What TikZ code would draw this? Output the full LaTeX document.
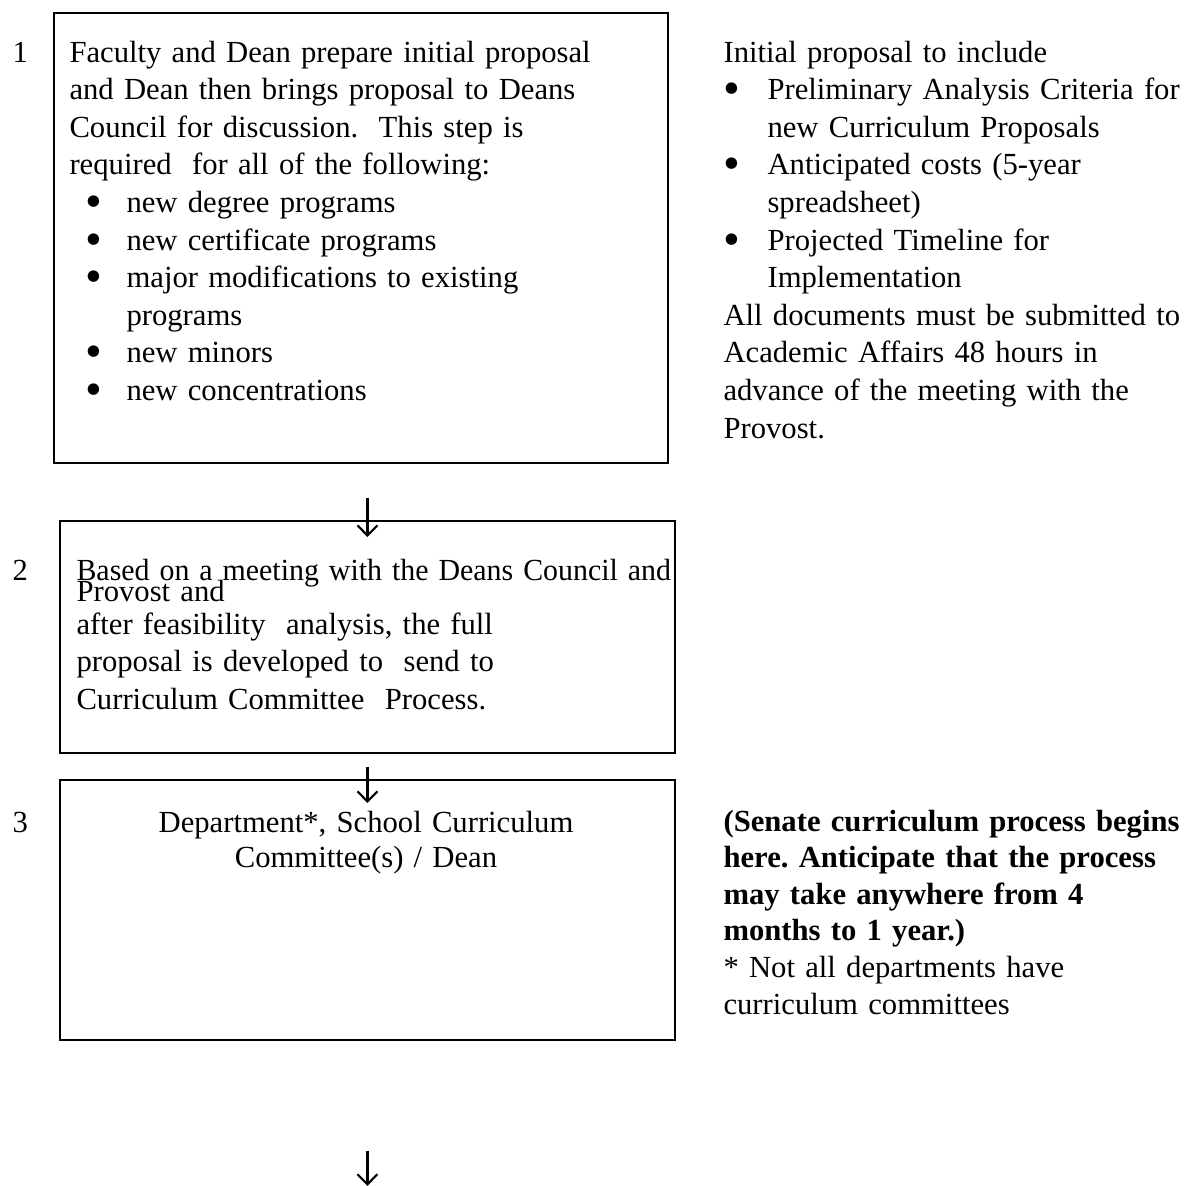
\documentclass[tikz,border=0pt]{standalone}
\usepackage{fontspec}
\usepackage{graphicx}
\setmainfont{Liberation Serif}
\usetikzlibrary{arrows.meta,positioning,calc}
\newdimen\unitpx
\unitpx=0.375pt
% bullet line: #1 bullet offset, #2 text indent (px), #3 text
\newcommand{\BulItem}[3]{\par\hangindent=#2\unitpx\noindent\hbox to #2\unitpx{\hskip#1\unitpx\raisebox{-1.9pt}{\fontsize{18}{18}\selectfont\textbullet}\hfil}#3}

\begin{document}
\frenchspacing
\begin{tikzpicture}[x=\unitpx,y=-\unitpx]
\tikzset{
  stepbox/.style={draw=black,line width=0.7pt,anchor=north west,inner sep=0pt},
  body/.style={font=\fontsize{11.5}{14.1}\selectfont\frenchspacing,inner sep=0pt,anchor=base west,align=left},
  stepnum/.style={font=\fontsize{11.5}{14.1}\selectfont,inner sep=0pt,anchor=base west},
  flow/.style={-{Straight Barb[length=3.8pt,width=7.5pt]},line width=0.8pt}
}
\useasboundingbox (0,0) rectangle (1186,1186);
% boxes
\node[stepbox,minimum width=614\unitpx,minimum height=450\unitpx] (box1) at (53,12) {};
\node[stepbox,minimum width=615\unitpx,minimum height=232\unitpx] (box2) at (59,520) {};
\node[stepbox,minimum width=615\unitpx,minimum height=260\unitpx] (box3) at (59,779) {};
% step numbers
\node[stepnum] (n1) at (12,62) {1};
\node[stepnum] (n2) at (12,580) {2};
\node[stepnum] (n3) at (12,832) {3};
% box texts
\node[body,text width=640\unitpx] (t1) at (69,62) {Faculty and Dean prepare initial proposal\\
and Dean then brings proposal to Deans\\
Council for discussion.\ \ This step is\\
required\ \ for all of the following:
\BulItem{16}{57}{new degree programs}
\BulItem{16}{57}{new certificate programs}
\BulItem{16}{57}{major modifications to existing\newline programs}
\BulItem{16}{57}{new minors}
\BulItem{16}{57}{new concentrations}};
\node[body,text width=680\unitpx] (t2) at (76,580) {\scalebox{0.975}[1]{Based on a meeting with the Deans Council and}\\[-16.6\unitpx]
Provost and\\[-4.6\unitpx]
after feasibility\ \ analysis, the full\\
proposal is developed to\ \ send to\\
Curriculum Committee\ \ Process.};
\node[body,anchor=base,align=center,text width=560\unitpx] (t3) at (366,832) {Department*, School Curriculum\\[-2.6\unitpx]Committee(s) / Dean};
% notes on the right
\node[body,text width=520\unitpx] (r1) at (723,62) {Initial proposal to include
\BulItem{0}{44}{Preliminary Analysis Criteria for\newline new Curriculum Proposals}
\BulItem{0}{44}{Anticipated costs (5-year\newline spreadsheet)}
\BulItem{0}{44}{Projected Timeline for\newline Implementation}
\par\noindent All documents must be submitted to\\
Academic Affairs 48 hours in\\
advance of the meeting with the\\
Provost.};
\node[body,text width=520\unitpx] (r3) at (723,831) {{\bfseries (Senate curriculum process begins\\[-1\unitpx]
here. Anticipate that the process\\[-1\unitpx]
may take anywhere from 4\\[-1\unitpx]
months to 1 year.)}\\[-1\unitpx]{}* Not all departments have\\[-1\unitpx]
curriculum committees};
% arrows
\coordinate (a1s) at ($(box2.north)+(0,-22)$);
\coordinate (a1e) at ($(box2.north)+(0,17)$);
\coordinate (a2s) at ($(box3.north)+(0,-12)$);
\coordinate (a2e) at ($(box3.north)+(0,24)$);
\coordinate (a3s) at ($(box3.south)+(0,110)$);
\coordinate (a3e) at ($(box3.south)+(0,145)$);
\draw[flow] (a1s) -- (a1e);
\draw[flow] (a2s) -- (a2e);
\draw[flow] (a3s) -- (a3e);
\end{tikzpicture}
\end{document}
